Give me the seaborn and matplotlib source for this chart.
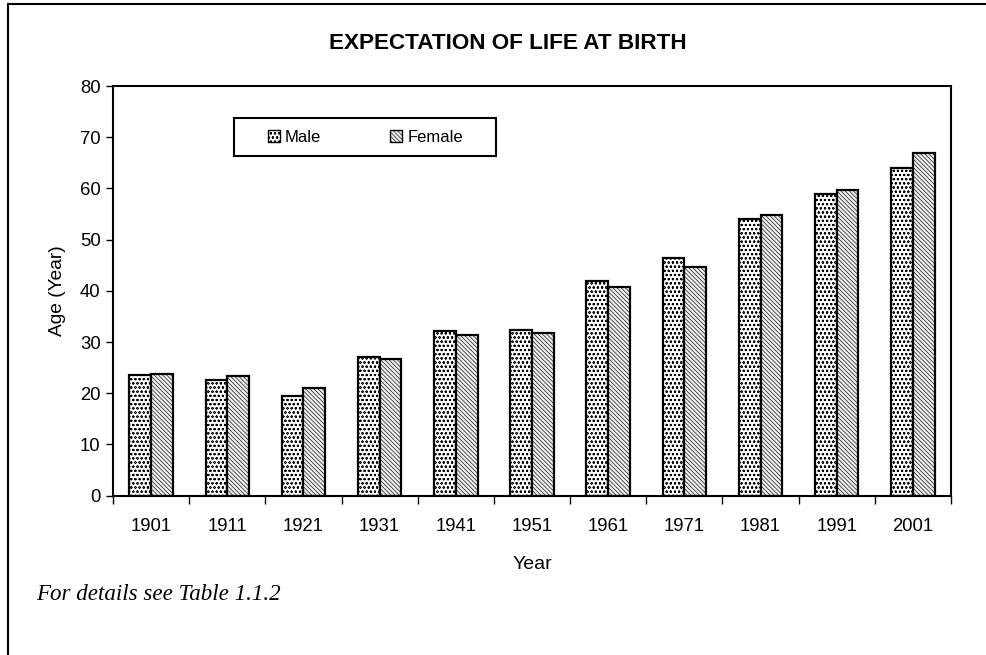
import matplotlib
matplotlib.use("Agg")
import matplotlib.pyplot as plt
import seaborn as sns
import pandas as pd
from matplotlib.patches import Rectangle, Patch
from matplotlib.lines import Line2D

years = ["1901", "1911", "1921", "1931", "1941", "1951", "1961", "1971", "1981", "1991", "2001"]
male = [23.6, 22.5, 19.4, 27.0, 32.1, 32.4, 41.9, 46.4, 54.1, 59.0, 63.9]
female = [23.8, 23.3, 21.0, 26.7, 31.3, 31.7, 40.7, 44.6, 54.8, 59.7, 67.0]
series = ["Male", "Female"]
yticks = [0, 10, 20, 30, 40, 50, 60, 70, 80]

df = pd.DataFrame({
    "Year": years * 2,
    "Age": male + female,
    "Sex": [series[0]] * len(years) + [series[1]] * len(years),
})

sns.set_theme(style="white")
plt.rcParams["font.family"] = ["Liberation Sans", "DejaVu Sans"]
plt.rcParams["hatch.linewidth"] = 0.45
for k in ["text.color", "axes.labelcolor", "xtick.color", "ytick.color"]:
    plt.rcParams[k] = "black"

fig = plt.figure(figsize=(9.87, 6.55), dpi=100)
ax = fig.add_axes([0.1145, 0.2432, 0.849, 0.6255])

fills = ["white", "#f0f0f0"]
sns.barplot(data=df, x="Year", y="Age", hue="Sex", order=years, hue_order=series,
            palette=fills, edgecolor="black", linewidth=1.6,
            width=0.57, gap=0, legend=False, ax=ax)

hatches = ["oooo", "\\\\\\\\\\\\\\\\"]
for cont, h in zip(ax.containers, hatches):
    for bar in cont:
        bar.set_hatch(h)
        bar.set_edgecolor("black")

FS = 13.3
ax.set_ylim(0, 80)
ax.set_xlim(-0.5, len(years) - 0.5)
ax.set_yticks(yticks)
ax.set_yticklabels([str(t) for t in yticks], fontsize=FS)
ax.tick_params(axis="y", direction="out", length=5, width=1, color="black", pad=4, left=True)
ax.set_xticks(range(len(years)))
ax.set_xticklabels(years, fontsize=FS)
ax.tick_params(axis="x", which="major", length=0, pad=16)
ax.set_xticks([i - 0.5 for i in range(len(years) + 1)], minor=True)
ax.tick_params(axis="x", which="minor", direction="out", length=6, width=1, color="black", bottom=True)

for s in ax.spines.values():
    s.set_visible(True)
    s.set_color("black")
    s.set_linewidth(1.5)

ax.set_xlabel("Year", fontsize=FS + 0.7, labelpad=15)
ax.set_ylabel("Age (Year)", fontsize=FS + 0.5, labelpad=10)

fig.text(0.514, 0.934, "EXPECTATION OF LIFE AT BIRTH", ha="center", va="center",
         fontsize=16.2, fontweight="bold")

# legend box
ax.add_patch(Rectangle((0.1444, 0.829), 0.313, 0.093, transform=ax.transAxes,
                       facecolor="white", edgecolor="black", linewidth=1.5, clip_on=False, zorder=5))
handles = [Patch(facecolor=f, edgecolor="black", hatch=h, linewidth=1) for f, h in zip(fills, hatches)]
leg = ax.legend(handles, series, loc="center", bbox_to_anchor=(0.3009, 0.8755),
                ncol=2, frameon=False, fontsize=12, handlelength=0.75, handleheight=0.75,
                handletextpad=0.3, columnspacing=4.1)
leg.set_zorder(6)

fig.text(36 / 987, 1 - 595 / 655, "For details see Table 1.1.2", ha="left", va="center",
         fontsize=16.6, style="italic", family=["Liberation Serif", "DejaVu Serif"])

# page border (top and left)
fig.add_artist(Line2D([8 / 987, 1.0], [1 - 4 / 655, 1 - 4 / 655], transform=fig.transFigure,
                      color="black", linewidth=1.5))
fig.add_artist(Line2D([8 / 987, 8 / 987], [0, 1 - 4 / 655], transform=fig.transFigure,
                      color="black", linewidth=1.5))

fig.savefig("out.png", dpi=100, facecolor="white")
